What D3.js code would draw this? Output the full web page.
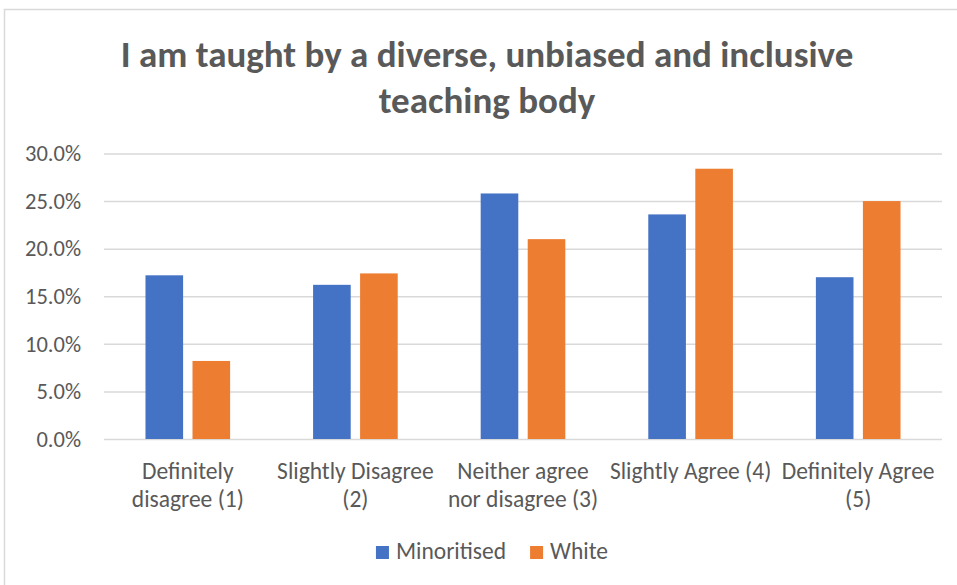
<!DOCTYPE html>
<html>
<head>
<meta charset="utf-8">
<script src="https://cdn.jsdelivr.net/npm/d3@7"></script>
<style>
  html, body { margin: 0; padding: 0; background: #fff; }
  svg { display: block; }
  text { font-family: Carlito, Calibri, Lato, "Noto Sans", sans-serif; fill: #595959; }
</style>
</head>
<body>
<svg id="chart" width="957" height="585"></svg>
<script>
// Survey responses: share of each group choosing each answer
const categories = [
  "Definitely disagree (1)",
  "Slightly Disagree (2)",
  "Neither agree nor disagree (3)",
  "Slightly Agree (4)",
  "Definitely Agree (5)"
];
const categoryLines = [
  ["Definitely", "disagree (1)"],
  ["Slightly Disagree", "(2)"],
  ["Neither agree", "nor disagree (3)"],
  ["Slightly Agree (4)"],
  ["Definitely Agree", "(5)"]
];
const seriesNames = ["Minoritised", "White"];
const minoritised = [0.172, 0.162, 0.258, 0.236, 0.170];
const white = [0.082, 0.174, 0.210, 0.284, 0.250];
const yTicks = [0, 0.05, 0.10, 0.15, 0.20, 0.25, 0.30];
const colors = ["#4472C4", "#ED7D31"];
const titleLines = ["I am taught by a diverse, unbiased and inclusive", "teaching body"];

const FONT = "Carlito, Calibri, Lato, 'Noto Sans', sans-serif";
const svg = d3.select("#chart");

// chart frame
svg.append("rect")
  .attr("x", 4.5).attr("y", 9.5)
  .attr("width", 970).attr("height", 600)
  .attr("fill", "none")
  .attr("stroke", "#d9d9d9")
  .attr("stroke-width", 1.5);

const plot = { left: 104, right: 942, top: 153.5, bottom: 439 };

const y = d3.scaleLinear().domain([0, 0.30]).range([plot.bottom, plot.top]);
const x0 = d3.scaleBand().domain(categories)
  .range([plot.left, plot.right])
  .paddingInner(0.495).paddingOuter(0.2475);
const x1 = d3.scaleBand().domain(seriesNames)
  .range([0, x0.bandwidth()])
  .paddingInner(0.2);

// title
const title = svg.append("text")
  .attr("text-anchor", "middle")
  .attr("font-size", 37)
  .attr("font-weight", "bold");
titleLines.forEach((t, i) => {
  title.append("tspan").attr("x", 487).attr("y", 67 + i * 46).text(t);
});

// horizontal gridlines + y labels
const yAxis = d3.axisLeft(y)
  .tickValues(yTicks)
  .tickSize(-(plot.right - plot.left))
  .tickPadding(23)
  .tickFormat(d3.format(".1%"));
const gy = svg.append("g")
  .attr("transform", `translate(${plot.left},0)`)
  .call(yAxis);
gy.select(".domain").remove();
gy.selectAll(".tick line").attr("stroke", "#d9d9d9").attr("stroke-width", 1.5);
gy.selectAll(".tick text")
  .attr("font-size", 22.5)
  .attr("fill", "#595959")
  .style("font-family", FONT);

// bars
const rows = categories.map((c, i) => ({ cat: c, vals: [minoritised[i], white[i]] }));
const groups = svg.append("g").selectAll("g")
  .data(rows).join("g")
  .attr("transform", d => `translate(${x0(d.cat)},0)`);
groups.selectAll("rect")
  .data(d => d.vals.map((v, j) => ({ key: seriesNames[j], v, j })))
  .join("rect")
  .attr("x", d => x1(d.key))
  .attr("width", x1.bandwidth())
  .attr("y", d => y(d.v))
  .attr("height", d => y(0) - y(d.v))
  .attr("fill", d => colors[d.j]);

// category labels
const gx = svg.append("g");
categories.forEach((c, i) => {
  const t = gx.append("text")
    .attr("text-anchor", "middle")
    .attr("font-size", 23.5);
  categoryLines[i].forEach((line, k) => {
    t.append("tspan")
      .attr("x", x0(c) + x0.bandwidth() / 2)
      .attr("y", 479 + k * 28)
      .text(line);
  });
});

// legend
const legend = svg.append("g");
let lx = 0;
seriesNames.forEach((name, j) => {
  const item = legend.append("g").attr("transform", `translate(${lx},0)`);
  item.append("rect")
    .attr("x", 0).attr("y", -13)
    .attr("width", 13).attr("height", 13)
    .attr("fill", colors[j]);
  const txt = item.append("text")
    .attr("x", 20).attr("y", 0)
    .attr("font-size", 23.5)
    .text(name);
  lx += 20 + txt.node().getComputedTextLength() + 24;
});
const legendWidth = lx - 24;
legend.attr("transform", `translate(${492 - legendWidth / 2},559)`);
</script>
</body>
</html>
